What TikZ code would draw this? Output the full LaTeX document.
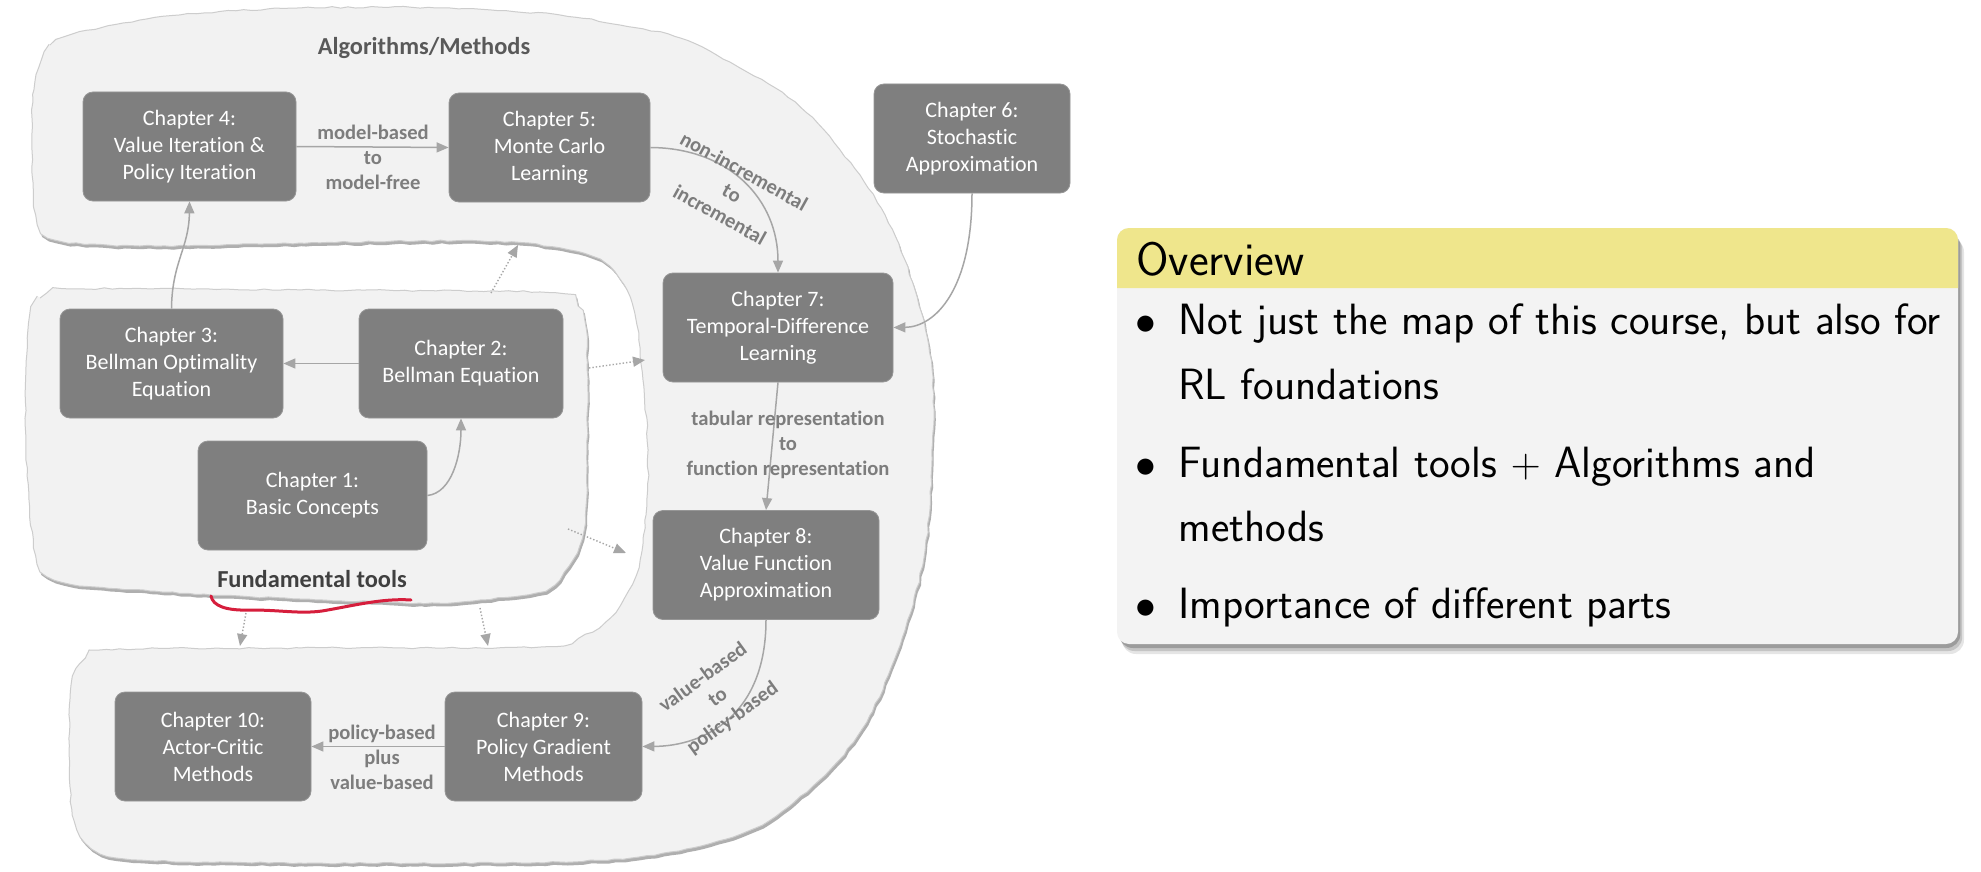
\documentclass[tikz,border=0pt]{standalone}
\usepackage{fontspec}
\setmainfont{Carlito}[Ligatures=NoCommon]
\usetikzlibrary{arrows.meta,calc,decorations.pathmorphing}

\definecolor{boxgray}{RGB}{127,127,127}
\definecolor{boxedge}{RGB}{150,150,150}
\definecolor{arrgray}{RGB}{166,166,166}
\definecolor{lblgray}{RGB}{125,125,125}
\definecolor{titlegray}{RGB}{89,89,89}
\definecolor{fundgray}{RGB}{64,64,64}
\definecolor{blobfill}{RGB}{242,242,242}
\definecolor{blobedge}{RGB}{205,205,205}
\definecolor{blobshadow}{RGB}{175,175,175}
\definecolor{inkred}{RGB}{214,30,60}
\definecolor{ovhead}{RGB}{239,230,140}
\definecolor{ovbody}{RGB}{243,243,243}

\begin{document}
\begin{tikzpicture}[x=0.5pt,y=-0.5pt,
  chap/.style={rectangle, rounded corners=5pt, fill=boxgray, draw=boxedge,
    line width=0.4pt, text=white, align=center, inner sep=0pt,
    minimum height=54.5pt, font=\fontsize{11}{13.5}\selectfont},
  lbl/.style={text=lblgray, align=center, inner sep=0pt,
    font=\fontsize{10.3}{12.5}\selectfont\bfseries},
  conn/.style={draw=arrgray, line width=0.75pt,
    -{Triangle[length=6pt,width=5pt]}},
  dotconn/.style={conn, line width=0.7pt, densely dotted},
  blob/.style={fill=blobfill, draw=blobedge, line width=0.5pt,
    decorate, decoration={random steps, segment length=4pt, amplitude=0.4pt},
    preaction={fill=blobshadow, transform canvas={shift={(0.8pt,-1.6pt)}}}},
  ovtext/.style={anchor=base west, inner sep=0pt,
    font=\sffamily\fontsize{21.9}{26}\selectfont},
  ovbullet/.style={anchor=base, inner sep=0pt,
    font=\sffamily\fontsize{21.9}{26}\selectfont}
]
\useasboundingbox (0,0) rectangle (1981,872);
\fill[white] (0,0) rectangle (1981,872);

\pgfmathsetseed{7}
% C-shaped region: algorithms and methods
\path[blob] plot[smooth cycle, tension=0.55] coordinates {
  (34,90) (50,45) (100,28) (180,15) (300,8) (450,8) (560,15) (620,25)
  (680,38) (740,68) (795,102) (840,150) (885,215) (915,290) (932,370)
  (932,460) (925,550) (905,630) (870,715) (825,775) (755,828) (670,852)
  (560,862) (300,863) (140,860) (92,848) (72,810) (70,700) (80,664)
  (112,650) (300,648) (540,647) (578,638) (610,618) (636,575) (646,515)
  (648,450) (643,380) (636,320) (624,285) (600,260) (560,248) (480,241)
  (300,243) (140,246) (55,240) (36,215) (32,150)};

% inner region: fundamental tools
\path[blob] plot[smooth cycle, tension=0.55] coordinates {
  (28,330) (40,298) (80,289) (300,290) (540,292) (572,300) (586,330)
  (587,450) (584,530) (569,566) (545,590) (480,600) (420,603) (300,599)
  (150,591) (62,582) (36,556) (26,450)};

% dotted links between the regions
\coordinate (d1s) at (491,293); \coordinate (d1e) at (518,245);
\coordinate (d2s) at (589,368); \coordinate (d2e) at (645,360);
\coordinate (d3s) at (568,529); \coordinate (d3e) at (626,553);
\coordinate (d4s) at (246,613); \coordinate (d4e) at (240,646);
\coordinate (d5s) at (480,608); \coordinate (d5e) at (488,646);
\foreach \s/\e in {d1s/d1e, d2s/d2e, d3s/d3e, d4s/d4e, d5s/d5e}
  \draw[dotconn] (\s) -- (\e);

% region titles
\node[anchor=base, inner sep=0pt, text=titlegray,
  font=\fontsize{12.2}{14}\selectfont\bfseries] (talg) at (424,55) {Algorithms/Methods};
\node[anchor=base, inner sep=0pt, text=fundgray,
  font=\fontsize{12.2}{14}\selectfont\bfseries] (tfund) at (312,587) {Fundamental tools};

% hand-drawn underline
\draw[inkred, line width=1.5pt, line cap=round]
  (211,596) .. controls (213,606) and (226,611) .. (252,610)
  .. controls (280,610) and (300,614) .. (322,611)
  .. controls (352,606) and (382,598) .. (411,600);

% chapters
\node[chap, minimum width=106.5pt] (c4)  at (189.5,146.5) {Chapter 4:\\Value Iteration \&\\Policy Iteration};
\node[chap, minimum width=100.5pt] (c5)  at (549.5,147.5) {Chapter 5:\\Monte Carlo\\Learning};
\node[chap, minimum width=98pt]    (c6)  at (972,138.5)   {Chapter 6:\\Stochastic\\Approximation};
\node[chap, minimum width=115pt]   (c7)  at (778,327.5)   {Chapter 7:\\Temporal-Difference\\Learning};
\node[chap, minimum width=111.5pt] (c3)  at (171.5,363.5) {Chapter 3:\\Bellman Optimality\\Equation};
\node[chap, minimum width=102pt]   (c2)  at (461,363.5)   {Chapter 2:\\Bellman Equation};
\node[chap, minimum width=114.5pt] (c1)  at (312.5,495.5) {Chapter 1:\\Basic Concepts};
\node[chap, minimum width=113pt]   (c8)  at (766,565)     {Chapter 8:\\Value Function\\Approximation};
\node[chap, minimum width=98.5pt]  (c9)  at (543.5,746.5) {Chapter 9:\\Policy Gradient\\Methods};
\node[chap, minimum width=98pt]    (c10) at (213,746.5)   {Chapter 10:\\Actor-Critic\\Methods};

% connectors
\draw[conn] (c4.east) -- (c5.west);
\draw[conn] (c3.north) .. controls (172,262) and (189,248) .. (c4.south);
\draw[conn] (c2.west) -- (c3.east);
\draw[conn] (c1.east) .. controls (452,493) and (461,455) .. (c2.south);
\draw[conn] (c5.east) .. controls (730,148) and (778,200) .. (c7.north);
\draw[conn] (c6.south) .. controls (972,290) and (935,327) .. (c7.east);
\draw[conn] (c7.south) -- (c8.north);
\draw[conn] (c8.south) .. controls (766,715) and (705,746) .. (c9.east);
\draw[conn] (c9.west) -- (c10.east);

% connector labels
\node[lbl] (l45) at (373,157) {model-based\\to\\model-free};
\node[lbl, rotate=-29] (l57) at (732,193) {non-incremental\\to\\incremental};
\node[lbl] (l78) at (788,445) {tabular representation\\to\\function representation};
\node[lbl, rotate=36] (l89) at (718,698) {value-based\\to\\policy-based};
\node[lbl] (l910) at (382,757) {policy-based\\plus\\value-based};

% overview panel
\foreach \k/\op in {10/0.10, 7/0.14, 4/0.2}
  \fill[black, opacity=\op, rounded corners=7pt]
    (1117+\k*0.5,228+\k) rectangle (1958+\k*0.6,644+\k);
\fill[ovbody, rounded corners=6pt] (1117,228) rectangle (1958,644);
\fill[ovhead] (1117,288) [rounded corners=6pt] -- (1117,228) -- (1958,228)
  [sharp corners] -- (1958,288) -- cycle;
\node[anchor=base west, inner sep=0pt, font=\sffamily\fontsize{23.5}{26}\selectfont]
  (ovt) at (1136,275) {Overview};
\node[ovbullet] (b1) at (1146,334) {$\bullet$};
\node[ovbullet] (b2) at (1146,477) {$\bullet$};
\node[ovbullet] (b3) at (1146,618) {$\bullet$};
\node[ovtext] (i1a) at (1178,334) {Not just the map of this course, but also for};
\node[ovtext] (i1b) at (1178,399) {RL foundations};
\node[ovtext] (i2a) at (1178,477) {Fundamental tools $+$ Algorithms and};
\node[ovtext] (i2b) at (1178,541) {methods};
\node[ovtext] (i3a) at (1178,618) {Importance of different parts};
\end{tikzpicture}
\end{document}
